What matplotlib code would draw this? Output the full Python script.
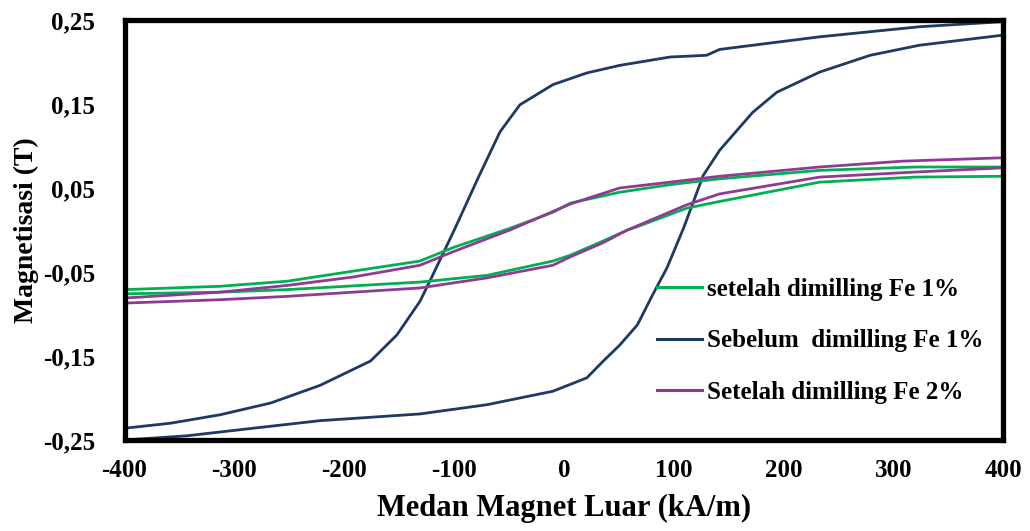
import matplotlib
matplotlib.use("Agg")
import matplotlib.pyplot as plt
from matplotlib.lines import Line2D

# Sebelum dimilling Fe 1% (blue)
blue_down_H = [400, 324, 233, 142, 130, 97, 51, 21, -10, -40, -58, -78, -99, -122, -131, -152, -176, -222, -267, -313, -358, -400]
blue_down_M = [0.248, 0.242, 0.230, 0.215, 0.208, 0.206, 0.196, 0.187, 0.173, 0.149, 0.117, 0.062, 0.002, -0.061, -0.085, -0.125, -0.156, -0.185, -0.206, -0.220, -0.230, -0.236]
blue_up_H = [-400, -343, -283, -222, -131, -70, -10, 21, 36, 51, 67, 81, 94, 109, 127, 142, 172, 194, 233, 279, 324, 400]
blue_up_M = [-0.250, -0.245, -0.236, -0.227, -0.219, -0.208, -0.192, -0.176, -0.156, -0.137, -0.113, -0.077, -0.045, 0.002, 0.065, 0.095, 0.140, 0.164, 0.188, 0.208, 0.220, 0.232]

# setelah dimilling Fe 1% (green)
green_down_H = [400, 320, 233, 142, 97, 51, 6, -10, -49, -101, -131, -192, -252, -313, -400]
green_down_M = [0.075, 0.075, 0.071, 0.061, 0.054, 0.045, 0.032, 0.021, 0.002, -0.021, -0.037, -0.049, -0.061, -0.067, -0.071]
green_up_H = [-400, -313, -252, -131, -70, -10, 6, 36, 58, 67, 112, 142, 233, 320, 400]
green_up_M = [-0.076, -0.074, -0.071, -0.062, -0.054, -0.037, -0.030, -0.013, 0.0, 0.004, 0.026, 0.034, 0.057, 0.063, 0.064]

# Setelah dimilling Fe 2% (purple)
purple_down_H = [400, 309, 233, 142, 97, 51, 6, -49, -101, -131, -192, -252, -313, -400]
purple_down_M = [0.086, 0.082, 0.075, 0.064, 0.057, 0.050, 0.031, 0.0, -0.026, -0.042, -0.056, -0.066, -0.074, -0.081]
purple_up_H = [-400, -313, -252, -131, -70, -10, 6, 36, 58, 112, 142, 233, 320, 400]
purple_up_M = [-0.087, -0.083, -0.079, -0.069, -0.057, -0.042, -0.032, -0.015, 0.0, 0.030, 0.043, 0.063, 0.069, 0.074]

x_ticks = [-400, -300, -200, -100, 0, 100, 200, 300, 400]
y_ticks = [-0.25, -0.15, -0.05, 0.05, 0.15, 0.25]
y_tick_labels = ['-0,25', '-0,15', '-0,05', '0,05', '0,15', '0,25']

labels = ['setelah dimilling Fe 1%', 'Sebelum  dimilling Fe 1%', 'Setelah dimilling Fe 2%']
colors = ['#00B050', '#1F3864', '#8E3A96']

plt.rcParams['font.family'] = ['Liberation Serif', 'DejaVu Serif']

fig = plt.figure(figsize=(10.30, 5.31), dpi=100)
ax = fig.add_axes([0.1209, 0.1714, 0.8529, 0.7909])

lw = 2.0
ax.plot(blue_down_H + blue_up_H, blue_down_M + blue_up_M, color=colors[1], lw=lw)
ax.plot(green_down_H + green_up_H, green_down_M + green_up_M, color=colors[0], lw=lw)
ax.plot(purple_down_H + purple_up_H, purple_down_M + purple_up_M, color=colors[2], lw=lw)

ax.set_xlim(-400, 400)
ax.set_ylim(-0.25, 0.25)
ax.set_xticks(x_ticks)
ax.set_xticklabels([str(v) for v in x_ticks], fontsize=18, fontweight='bold')
ax.set_yticks(y_ticks)
ax.set_yticklabels(y_tick_labels, fontsize=18, fontweight='bold')
ax.tick_params(axis='both', length=0)
ax.tick_params(axis='y', pad=21)
ax.tick_params(axis='x', pad=14)

for sp in ax.spines.values():
    sp.set_linewidth(3.8)
    sp.set_color('black')

ax.set_xlabel('Medan Magnet Luar (kA/m)', fontsize=22, fontweight='bold', labelpad=8)
ax.set_ylabel('Magnetisasi (T)', fontsize=20, fontweight='bold', labelpad=3)

handles = [Line2D([0], [0], color=c, lw=2.2) for c in colors]
leg = ax.legend(handles, labels, loc='center left', bbox_to_anchor=(0.580, 0.236),
                frameon=False, prop={'family': 'Liberation Serif', 'weight': 'bold', 'size': 18},
                handlelength=1.8, handletextpad=0.2, labelspacing=1.15)

fig.savefig('out.png', dpi=100)
